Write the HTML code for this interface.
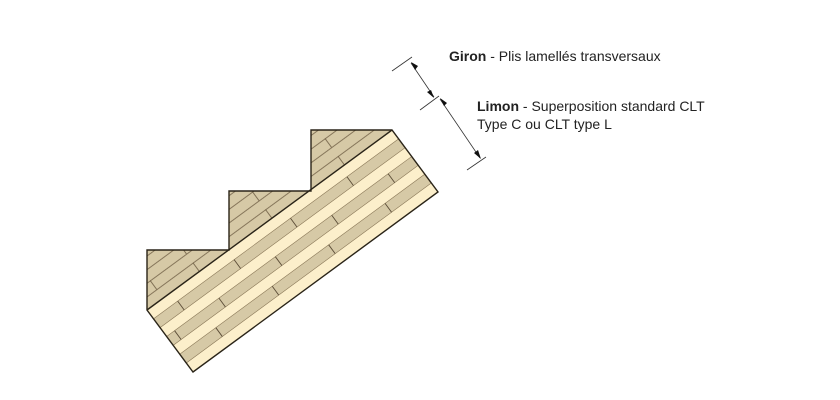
<!DOCTYPE html>
<html><head><meta charset="utf-8"><style>
html,body{margin:0;padding:0;background:#fff}
svg{display:block}
text{font-family:"Liberation Sans",Arial,sans-serif;font-size:14px;fill:#222}
</style></head><body>
<svg width="840" height="400" viewBox="0 0 840 400" xmlns="http://www.w3.org/2000/svg">
<defs>
<pattern id="tread" patternUnits="userSpaceOnUse" width="90" height="22" patternTransform="translate(147,310) rotate(-36.3)">
<rect width="90" height="22" fill="#d6c9a6"/>
<line x1="0" y1="0.5" x2="90" y2="0.5" stroke="#6b5a40" stroke-width="0.8"/>
<line x1="0" y1="11.5" x2="90" y2="11.5" stroke="#6b5a40" stroke-width="0.8"/>
<line x1="20" y1="0" x2="20" y2="11" stroke="#6b5a40" stroke-width="0.8"/>
<line x1="65" y1="11" x2="65" y2="22" stroke="#6b5a40" stroke-width="0.8"/>
</pattern>
</defs>
<polygon points="147,250 229,250 229,191 311,191 311,130 392,130 147,310" fill="url(#tread)"/>
<g transform="translate(147,310) rotate(-36.3)">
<rect x="0" y="0" width="304" height="77" fill="#fcefcb"/>
<g fill="#d6c9a6" stroke="#8a7858" stroke-width="0.6">
<rect x="0" y="11" width="304" height="11"/>
<rect x="0" y="33" width="304" height="11"/>
<rect x="0" y="55" width="304" height="11"/>
</g>
<g stroke="#5a4b35" stroke-width="0.9">
<line x1="30" y1="11" x2="30" y2="22"/><line x1="100" y1="11" x2="100" y2="22"/><line x1="170" y1="11" x2="170" y2="22"/><line x1="240" y1="11" x2="240" y2="22"/>
<line x1="10" y1="33" x2="10" y2="44"/><line x1="65" y1="33" x2="65" y2="44"/><line x1="135" y1="33" x2="135" y2="44"/><line x1="205" y1="33" x2="205" y2="44"/><line x1="275" y1="33" x2="275" y2="44"/>
<line x1="45" y1="55" x2="45" y2="66"/><line x1="115" y1="55" x2="115" y2="66"/><line x1="185" y1="55" x2="185" y2="66"/><line x1="255" y1="55" x2="255" y2="66"/>
</g>
</g>
<polygon points="147,250 229,250 229,191 311,191 311,130 392,130 438,192 193,372 147,310" fill="none" stroke="#2a2418" stroke-width="1.4"/>
<line x1="147" y1="310" x2="392" y2="130" stroke="#2a2418" stroke-width="1.4"/>
<g stroke="#333" stroke-width="0.8">
<line x1="392" y1="71" x2="412" y2="57"/>
<line x1="420" y1="110" x2="439" y2="96"/>
<line x1="467" y1="170" x2="486" y2="157"/>
<line x1="411" y1="63" x2="434" y2="97"/>
<line x1="440" y1="99" x2="480" y2="158"/>
</g>
<g fill="#111">
<polygon points="411,62 415,70 418,66"/>
<polygon points="434,98 427,92 431,90"/>
<polygon points="440,98 444,106 447,103"/>
<polygon points="481,159 474,153 478,150"/>
</g>
<text x="449" y="61"><tspan font-weight="bold">Giron</tspan> - Plis lamellés transversaux</text>
<text x="477" y="111"><tspan font-weight="bold">Limon</tspan> - Superposition standard CLT</text>
<text x="477" y="129">Type C ou CLT type L</text>
</svg>
</body></html>
